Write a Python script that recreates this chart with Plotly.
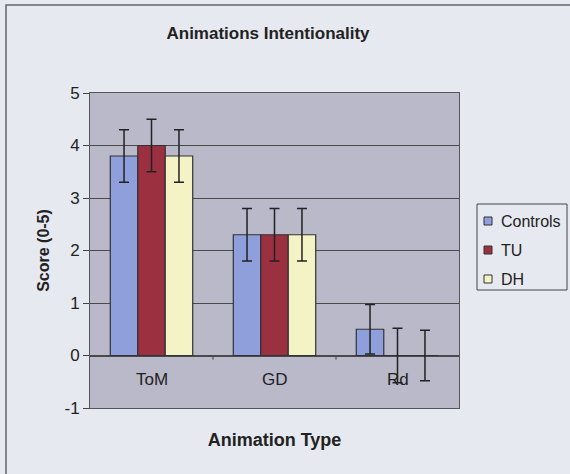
import plotly.graph_objects as go

categories = ["ToM", "GD", "Rd"]
series_names = ["Controls", "TU", "DH"]
controls = [3.8, 2.3, 0.5]
tu = [4.0, 2.3, 0.0]
dh = [3.8, 2.3, 0.0]
controls_err = [0.5, 0.5, 0.47]
tu_err = [0.5, 0.5, 0.52]
dh_err = [0.5, 0.5, 0.48]
colors = ["#8f9fdc", "#9a3040", "#f3f3c6"]
y_ticks = [-1, 0, 1, 2, 3, 4, 5]
y_tick_labels = ["-1", "0", "1", "2", "3", "4", "5"]

# plot-area geometry in pixels (for converting legend placement)
W, H = 570, 474
ML, MR, MT, MB = 90, 111, 93, 66
PW, PH = W - ML - MR, H - MT - MB


def px(x):
    return (x - ML) / PW


def py(y):
    return (H - MB - y) / PH


fig = go.Figure()
for name, vals, errs, col in zip(series_names, [controls, tu, dh],
                                 [controls_err, tu_err, dh_err], colors):
    fig.add_trace(go.Bar(
        name=name, x=categories, y=vals, marker_color=col,
        marker_line=dict(color="#333333", width=1.2),
        showlegend=False,
        error_y=dict(type="data", array=errs, visible=True,
                     color="#222222", thickness=1.5, width=5),
    ))

# category labels inside plot area below zero line
for c in categories:
    fig.add_annotation(x=c, y=-0.45, xref="x", yref="y", text=c,
                       showarrow=False, font=dict(size=17, color="#222222"))

# minor tick marks at zero line between categories
for b in [0.5, 1.5]:
    fig.add_shape(type="line", xref="x", yref="y", x0=b, x1=b, y0=0, y1=-0.08,
                  line=dict(color="#444444", width=1))

# outer border (only left/top visible in the crop)
fig.add_shape(type="rect", xref="paper", yref="paper",
              x0=px(6), x1=px(600), y0=py(500), y1=py(5),
              line=dict(color="#666666", width=1.5))

# legend box, drawn to match the Excel-style legend
fig.add_shape(type="rect", xref="paper", yref="paper",
              x0=px(477), x1=px(567), y0=py(290), y1=py(204),
              line=dict(color="#444444", width=1), fillcolor="#e6e9ef")
legend_rows = [221, 250, 279]
for name, col, ry in zip(series_names, colors, legend_rows):
    fig.add_shape(type="rect", xref="paper", yref="paper",
                  x0=px(484), x1=px(492), y0=py(ry + 4), y1=py(ry - 4),
                  line=dict(color="#333333", width=1), fillcolor=col)
    fig.add_annotation(x=px(499), y=py(ry), xref="paper", yref="paper",
                       text=name, showarrow=False, xanchor="left", yanchor="middle",
                       font=dict(size=16, color="#222222"))

fig.update_layout(
    width=W, height=H,
    margin=dict(l=ML, r=MR, t=MT, b=MB),
    paper_bgcolor="#e6e9ef",
    plot_bgcolor="#b9b9c9",
    barmode="group", bargap=0.33, bargroupgap=0,
    font=dict(family="Arial, Liberation Sans, sans-serif", size=16, color="#222222"),
    title=dict(text="<b>Animations Intentionality</b>", x=px(268), xanchor="center",
               xref="paper", y=1 - 33 / H, yanchor="middle",
               font=dict(size=17, color="#222222")),
    xaxis=dict(showticklabels=False, ticks="", showgrid=False, zeroline=False,
               showline=True, linecolor="#555555", mirror=True,
               title=dict(text="<b>Animation Type</b>", font=dict(size=18), standoff=25)),
    yaxis=dict(range=[-1, 5], tickvals=y_ticks, ticktext=y_tick_labels,
               ticks="outside", ticklen=6,
               tickcolor="#444444", showgrid=True, gridcolor="#4a4a4a", gridwidth=1,
               zeroline=True, zerolinecolor="#4a4a4a", zerolinewidth=1.5,
               showline=True, linecolor="#555555", mirror=True,
               tickfont=dict(size=17),
               title=dict(text="<b>Score (0-5)</b>", font=dict(size=16), standoff=10)),
    showlegend=False,
)

fig.write_html("out.html", config={"displayModeBar": False},
               post_script="document.body.style.margin='0';")
